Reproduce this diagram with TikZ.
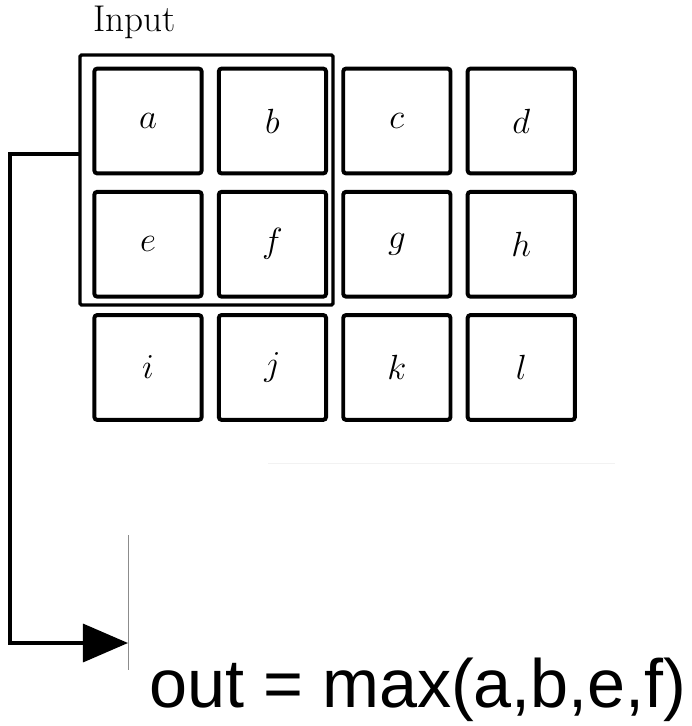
\documentclass[tikz,border=0pt]{standalone}
\usepackage{fontspec}
\newfontfamily\outfont{Liberation Sans}
\usetikzlibrary{arrows.meta,positioning,fit}

\begin{document}
\begin{tikzpicture}[x=0.025cm,y=-0.025cm,
  cell/.style={draw,rectangle,rounded corners=2pt,line width=2.8pt,
    minimum width=2.68cm,minimum height=2.62cm,inner sep=0pt,outer sep=0pt,
    font=\fontsize{26}{30}\selectfont},
  window/.style={draw,rectangle,line width=2.4pt,inner sep=0pt,outer sep=0pt,rounded corners=1pt},
  flow/.style={line width=2.4pt,-{Triangle[length=1.125cm,width=0.95cm]}},
  node distance=0.46cm and 0.43cm]

  \useasboundingbox (0,0) rectangle (692,726);

  % the 3x4 input grid
  \node (a) [cell] at (148,121) {$a$};
  \node (b) [cell,right=of a] {$b$};
  \node (c) [cell,right=of b] {$c$};
  \node (d) [cell,right=of c] {$d$};

  \node (e) [cell,below=of a] {$e$};
  \node (f) [cell,right=of e] {$f$};
  \node (g) [cell,right=of f] {$g$};
  \node (h) [cell,right=of g] {$h$};

  \node (i) [cell,below=of e] {$i$};
  \node (j) [cell,right=of i] {$j$};
  \node (k) [cell,right=of j] {$k$};
  \node (l) [cell,right=of k] {$l$};

  \node (input) [anchor=base west,inner sep=0pt,font=\fontsize{26.5}{30}\selectfont] at (93,31) {Input};

  % pooling window around a, b, e, f
  \coordinate (wnw) at (80,55);
  \coordinate (wse) at (333,305);
  \node (win) [window,fit=(wnw)(wse)] {};

  \draw[black!5,line width=0.6pt] (268,463) -- (615,463);
  \draw[black!45,line width=0.5pt] (128,535) -- (128,670);

  \coordinate (bend) at (10,643);
  \coordinate (tip) at (128,643);
  \draw[flow] ([yshift=0.65cm]win.west) -| (bend) -- (tip);

  \node (out) [anchor=base west,inner sep=0pt,font=\outfont\fontsize{48.6}{58}\selectfont] at (149,707) {out = max(a,b,e,f)};
\end{tikzpicture}
\end{document}
